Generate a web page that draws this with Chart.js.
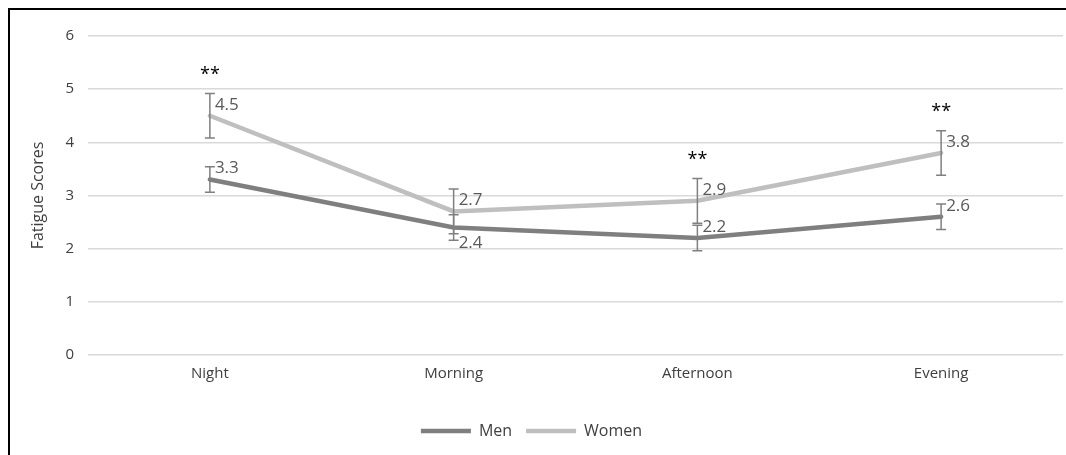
<!DOCTYPE html>
<html>
<head>
<meta charset="utf-8">
<script src="https://cdn.jsdelivr.net/npm/chart.js@4.4.0/dist/chart.umd.min.js"></script>
<style>
    body { margin: 0; background: #fff; }
    .wrap { position: relative; width: 1066px; height: 455px; overflow: hidden; }
    .frame { position: absolute; left: 8px; top: 8px; width: 1100px; height: 500px; border-left: 2px solid #000; border-top: 2px solid #000; }
    canvas { position: absolute; left: 0; top: 0; }
</style>
</head>
<body>
<div class="wrap">
    <div class="frame"></div>
    <canvas id="chart" width="1066" height="455"></canvas>
</div>
<script>
// Data
const periods = ["Night", "Morning", "Afternoon", "Evening"];
const men = [3.3, 2.4, 2.2, 2.6];
const women = [4.5, 2.7, 2.9, 3.8];
const menErr = [0.24, 0.24, 0.24, 0.24];
const womenErr = [0.42, 0.42, 0.42, 0.42];
const significance = ["**", "", "**", "**"];
const yTicks = [0, 1, 2, 3, 4, 5, 6];
const yTitle = "Fatigue Scores";

// Colors
const menColor = "#7f7f7f";
const womenColor = "#bfbfbf";
const errColor = "#808080";
const FONT = "'Open Sans', sans-serif";

// Plugin: axis title, error bars, value labels, significance stars
const extrasPlugin = {
    id: "extras",
    afterDraw(chart) {
        const ctx = chart.ctx;
        const x = chart.scales.x;
        const y = chart.scales.y;

        // axis title
        ctx.save();
        ctx.font = "16px " + FONT;
        ctx.fillStyle = "#404040";
        ctx.textAlign = "center";
        ctx.textBaseline = "middle";
        ctx.translate(38, (chart.chartArea.top + chart.chartArea.bottom) / 2);
        ctx.rotate(-Math.PI / 2);
        ctx.fillText(yTitle, 0, 0);
        ctx.restore();

        const drawErr = (values, errs) => {
            values.forEach((v, i) => {
                const px = x.getPixelForValue(i);
                const top = y.getPixelForValue(v + errs[i]);
                const bottom = y.getPixelForValue(v - errs[i]);
                ctx.save();
                ctx.strokeStyle = errColor;
                ctx.lineWidth = 1.5;
                ctx.beginPath();
                ctx.moveTo(px, top);
                ctx.lineTo(px, bottom);
                ctx.moveTo(px - 5, top);
                ctx.lineTo(px + 5, top);
                ctx.moveTo(px - 5, bottom);
                ctx.lineTo(px + 5, bottom);
                ctx.stroke();
                ctx.restore();
            });
        };
        drawErr(men, menErr);
        drawErr(women, womenErr);

        const drawLabels = (values, below) => {
            ctx.save();
            ctx.font = "17px " + FONT;
            ctx.fillStyle = "#595959";
            ctx.textAlign = "left";
            ctx.textBaseline = "middle";
            values.forEach((v, i) => {
                const px = x.getPixelForValue(i);
                const py = y.getPixelForValue(v);
                const dy = below[i] ? 16 : -11;
                ctx.fillText(v.toFixed(1), px + 5, py + dy);
            });
            ctx.restore();
        };
        drawLabels(men, [false, true, false, false]);
        drawLabels(women, [false, false, false, false]);

        ctx.save();
        ctx.font = "18px " + FONT;
        ctx.fillStyle = "#000";
        ctx.textAlign = "center";
        ctx.textBaseline = "middle";
        significance.forEach((s, i) => {
            if (!s) return;
            const px = x.getPixelForValue(i);
            const top = y.getPixelForValue(women[i] + womenErr[i]);
            ctx.fillText(s, px, top - 19);
        });
        ctx.restore();
    }
};

new Chart(document.getElementById("chart"), {
    type: "line",
    data: {
        labels: periods,
        datasets: [
            {
                label: "Men",
                data: men,
                borderColor: menColor,
                backgroundColor: menColor,
                borderWidth: 4.5,
                borderCapStyle: "round",
                pointRadius: 0,
                tension: 0
            },
            {
                label: "Women",
                data: women,
                borderColor: womenColor,
                backgroundColor: womenColor,
                borderWidth: 4.5,
                borderCapStyle: "round",
                pointRadius: 0,
                tension: 0
            }
        ]
    },
    options: {
        responsive: false,
        animation: false,
        layout: { padding: { top: 36, right: 3, left: 0, bottom: 6 } },
        plugins: {
            legend: {
                position: "bottom",
                labels: {
                    usePointStyle: true,
                    pointStyle: "line",
                    pointStyleWidth: 50,
                    font: { family: FONT, size: 16 },
                    color: "#404040",
                    padding: 14
                }
            },
            tooltip: { enabled: false }
        },
        scales: {
            x: {
                offset: true,
                grid: { display: false, drawTicks: false },
                border: { display: false },
                ticks: { font: { family: FONT, size: 15 }, color: "#404040", padding: 10 },
                afterFit: (scale) => { scale.height = 54; }
            },
            y: {
                min: 0,
                max: 6,
                afterBuildTicks: (scale) => { scale.ticks = yTicks.map(v => ({ value: v })); },
                grid: { color: "#d9d9d9", lineWidth: 1.5, drawTicks: false },
                border: { display: false },
                ticks: { font: { family: FONT, size: 15 }, color: "#404040", padding: 14 },
                afterFit: (scale) => { scale.width = 88; }
            }
        }
    },
    plugins: [extrasPlugin]
});
</script>
</body>
</html>
